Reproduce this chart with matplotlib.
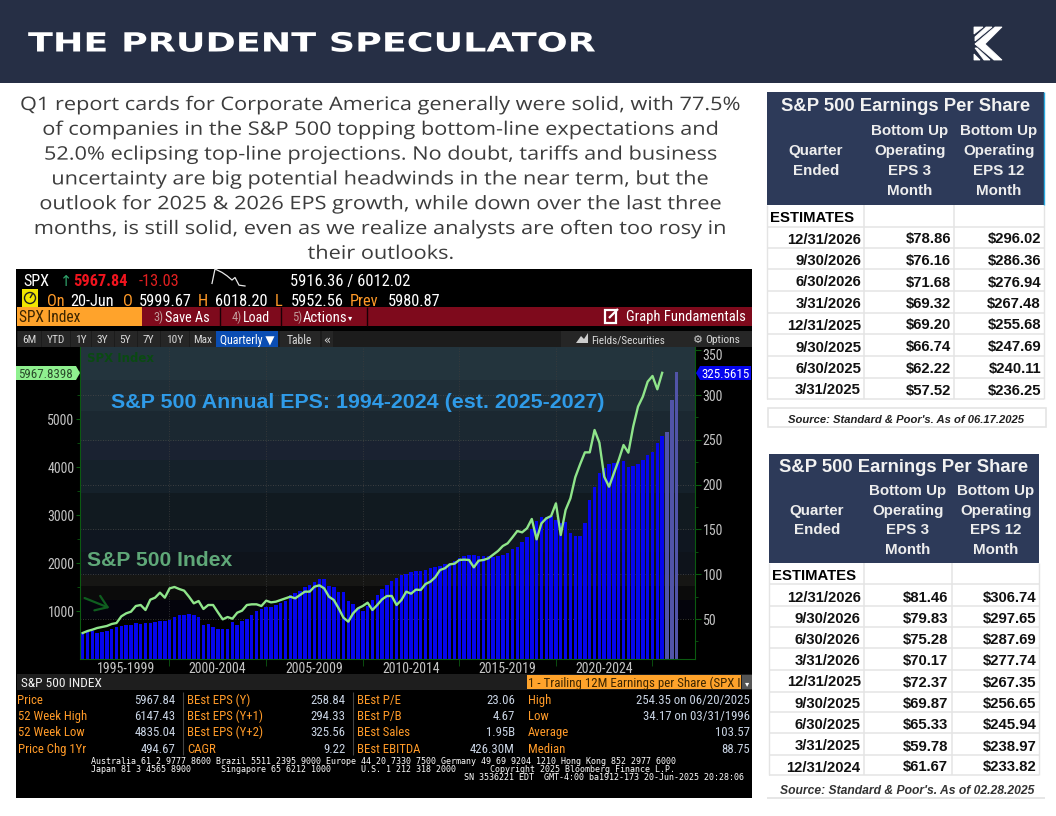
import matplotlib
matplotlib.use("Agg")
import matplotlib.pyplot as plt
import numpy as np
from matplotlib import font_manager as fm
from matplotlib.patches import Rectangle, Polygon, FancyArrowPatch, Circle
from matplotlib.patheffects import AbstractPathEffect
from matplotlib.transforms import Affine2D
from matplotlib.ticker import FixedLocator, NullFormatter

# ---------- data ----------
eps_actual = [34.0,35.1,36.6,34.17,35.5,37.0,38.8,41.1,42.2,43.3,43.7,45.5,44.0,45.9,45.5,46.7,47.8,47.8,48.5,52.6,
              54.5,54.5,55.6,54.5,52.2,43.3,44.4,41.1,39.2,38.8,39.2,47.0,43.3,47.8,49.6,54.8,58.6,61.2,63.0,63.0,
              66.0,68.2,70.5,76.4,78.6,81.6,86.1,88.3,91.3,94.3,94.3,86.8,85.3,80.1,80.1,70.5,66.7,62.3,58.6,64.5,
              71.2,77.2,83.1,88.3,92.0,95.8,99.1,99.9,102.5,103.2,103.9,104.3,106.9,108.0,109.5,111.0,111.8,115.1,118.4,120.7,
              121.0,121.4,120.7,120.3,120.0,119.5,120.8,122.0,124.0,127.7,130.0,135.9,141.9,150.0,159.7,163.5,164.2,165.0,160.5,156.8,
              158.6,145.6,142.6,142.6,156.8,182.8,197.7,212.6,218.2,222.6,224.4,225.5,226.3,219.3,220.8,223.0,227.4,233.0,236.7,246.2,
              254.35]
eps_estimates = [258.84, 294.33, 325.56]
spx_values = [548,589,617,652,673,694,735,756,895,957,992,1110,1131,1027,1242,1284,1388,1284,1478,1506,
              1464,1430,1305,1166,1214,1048,1131,1131,978,832,881,846,971,1013,1131,1145,1145,1110,1221,1186,
              1200,1235,1270,1304,1270,1339,1409,1409,1513,1541,1478,1304,1235,1061,867,784,957,1061,1110,1179,
              1027,1131,1249,1318,1319,1131,1235,1409,1367,1451,1444,1569,1617,1708,1860,1895,1978,1992,2069,2076,
              2069,1916,2055,2069,2103,2180,2256,2360,2416,2541,2673,2645,2728,2923,2499,2832,2936,2985,3249,2589,
              3110,3353,3791,4061,4311,4311,4777,4513,3804,3596,3874,4152,4464,4305,4847,5264,5472,5784,5902,5625,
              5967.84]
period_labels = ["1995-1999","2000-2004","2005-2009","2010-2014","2015-2019","2020-2024"]
period_centres = [9.0,27.8,47.9,68.0,87.9,108.0]
period_bounds = [17.9,38.0,58.0,77.9,98.0,117.9]
left_ticks = [1000,2000,3000,4000,5000]
right_ticks = [50,100,150,200,250,300,350]
spark_x = [0,3,10,15,20,23,27,33]
spark_y = [0.15,1.0,0.8,0.6,0.35,0.5,0.05,0.0]

paragraph = ["Q1 report cards for Corporate America generally were solid, with 77.5%",
             "of companies in the S&P 500 topping bottom-line expectations and",
             "52.0% eclipsing top-line projections. No doubt, tariffs and business",
             "uncertainty are big potential headwinds in the near term, but the",
             "outlook for 2025 & 2026 EPS growth, while down over the last three",
             "months, is still solid, even as we realize analysts are often too rosy in",
             "their outlooks."]

t1_quarters = ["12/31/2026","9/30/2026","6/30/2026","3/31/2026","12/31/2025","9/30/2025","6/30/2025","3/31/2025"]
t1_eps3 = ["$78.86","$76.16","$71.68","$69.32","$69.20","$66.74","$62.22","$57.52"]
t1_eps12 = ["$296.02","$286.36","$276.94","$267.48","$255.68","$247.69","$240.11","$236.25"]
t2_quarters = ["12/31/2026","9/30/2026","6/30/2026","3/31/2026","12/31/2025","9/30/2025","6/30/2025","3/31/2025","12/31/2024"]
t2_eps3 = ["$81.46","$79.83","$75.28","$70.17","$72.37","$69.87","$65.33","$59.78","$61.67"]
t2_eps12 = ["$306.74","$297.65","$287.69","$277.74","$267.35","$256.65","$245.94","$238.97","$233.82"]

stats_rows = [
 ("Price","5967.84","BEst EPS (Y)","258.84","BEst P/E","23.06","High","254.35 on 06/20/2025"),
 ("52 Week High","6147.43","BEst EPS (Y+1)","294.33","BEst P/B","4.67","Low","34.17 on 03/31/1996"),
 ("52 Week Low","4835.04","BEst EPS (Y+2)","325.56","BEst Sales","1.95B","Average","103.57"),
 ("Price Chg 1Yr","494.67","CAGR","9.22","BEst EBITDA","426.30M","Median","88.75"),
]

# ---------- fonts ----------
names = {f.name for f in fm.fontManager.ttflist}
NARROW = [n for n in ["Liberation Sans Narrow","Roboto Condensed","Open Sans Condensed","Liberation Sans"] if n in names][:1] + ["DejaVu Sans"]
ARIAL = ["Liberation Sans","DejaVu Sans"]
NW = 10.0

W, H = 1056, 816
fig = plt.figure(figsize=(W/100, H/100), dpi=100, facecolor="white")
base = fig.add_axes([0,0,1,1], zorder=0); top = fig.add_axes([0,0,1,1], zorder=5)
for a in (base, top):
    a.set_xlim(0,W); a.set_ylim(H,0); a.axis("off"); a.patch.set_alpha(0)

def R(x0,y0,x1,y1,c,ax=base,**k):
    ax.add_patch(Rectangle((x0,y0),x1-x0,y1-y0,facecolor=c,edgecolor="none",**k))
def L(x0,y0,x1,y1,c,lw=1,ax=base,**k):
    ax.plot([x0,x1],[y0,y1],color=c,lw=lw,solid_capstyle="butt",**k)
def T(x,y,s,size=NW,c="white",ha="left",fam=NARROW,w="normal",st="normal",va="center_baseline"):
    return top.text(x,y,s,fontsize=size,color=c,ha=ha,va=va,family=fam,weight=w,style=st)

# ---------- header ----------
R(0,0,W,83,"#262F45")
class StretchX(AbstractPathEffect):
    def __init__(self,sx,x0):
        super().__init__(); self.sx=sx; self.x0=x0
    def draw_path(self,renderer,gc,tpath,affine,rgbFace=None):
        t = affine + Affine2D().translate(-self.x0,0).scale(self.sx,1).translate(self.x0,0)
        renderer.draw_path(gc,tpath,t,rgbFace)
ttl = T(28,41.5,"THE PRUDENT SPECULATOR",size=19,fam=["DejaVu Sans"],w="bold")
fig.canvas.draw()
ext = ttl.get_window_extent()
ttl.set_path_effects([StretchX(567/ext.width,28)])
for pts in ([(974,27),(983,27),(974,34)],
            [(986,27),(992,27),(975,41),(975,37)],
            [(995,27),(1002,27),(985,44),(975,44)],
            [(975,44),(985,44),(1002,60),(994,60)],
            [(975,48),(977,48),(990,60),(984,60)],
            [(974,54),(980,60),(974,60)]):
    base.add_patch(Polygon(pts,closed=True,facecolor="white",edgecolor="white",lw=0.6))

# ---------- paragraph ----------
p0 = T(381,103,paragraph[0],size=13.4,c="#3c3c3c",ha="center",fam=["Open Sans","DejaVu Sans"])
fig.canvas.draw()
sx = 722/p0.get_window_extent().width
p0.set_path_effects([StretchX(sx,381)])
for k,line in enumerate(paragraph[1:],1):
    t = T(381,103+24.8*k,line,size=13.4,c="#3c3c3c",ha="center",fam=["Open Sans","DejaVu Sans"])
    t.set_path_effects([StretchX(sx,381)])

# ---------- terminal panel ----------
R(16,269,752,798,"black")
T(23,280,"SPX",size=11.6)
T(60,280,"↑",size=10.5,c="#2fa36b",fam=["DejaVu Sans"])
T(73,280,"5967.84",size=11.8,c="#f0141e",w="bold")
T(139,280,"-13.03",size=11.8,c="#e02020")
T(290,280,"5916.36 / 6012.02",size=11.9)
base.plot(212+np.array(spark_x),286-17*np.array(spark_y),color="#e8e8e8",lw=0.9)
R(22,289,38,308,"#f2e600")
base.add_patch(Circle((30,298),5.5,facecolor="none",edgecolor="#222",lw=1))
L(30,298,33,293,"#222",1)
O="#ff9a28"
for x,s,c in [(47,"On",O),(70,"20-Jun","white"),(123,"O",O),(139,"5999.67","white"),(198,"H",O),(215,"6018.20","white"),
              (275,"L",O),(291,"5952.56","white"),(350,"Prev",O),(388,"5980.87","white")]:
    T(x,300,s,size=11.8,c=c)
R(142,307,752,326,"#7E0A1C"); R(17,307,142,326,"#FFA32B")
T(19,316.5,"SPX Index",size=11.2,c="#3a2400")
for x in (220,281,367): L(x,307,x,326,"#1a0005",1)
T(153,316,"3)",size=9,c="#c09a9a"); T(165,316,"Save As",size=10.2)
T(232,316,"4)",size=9,c="#c09a9a"); T(243,316,"Load",size=10)
T(292,316,"5)",size=9,c="#c09a9a"); T(303,316,"Actions",size=10.6); T(350,317,"▾",size=6,fam=["DejaVu Sans"],ha="center")
base.add_patch(Rectangle((605,310),11,12.5,facecolor="none",edgecolor="white",lw=1.6))
L(609,318,618,309,"white",1.6)
T(626,316,"Graph Fundamentals",size=10.5)
R(17,331,752,347,"#1c1c1c")
for x0,x1,s in [(17,41,"6M"),(41,70,"YTD"),(70,91,"1Y"),(91,114,"3Y"),(114,137,"5Y"),(137,160,"7Y"),(160,189,"10Y"),(189,216,"Max")]:
    R(x0+0.5,331,x1-0.5,347,"#262626"); T((x0+x1)/2,339,s,size=8.2,c="#d8d8d8",ha="center")
R(216,331,278,347,"#0A4DB3"); T(247,339,"Quarterly ▼",size=8.6,ha="center")
R(280,331,320,347,"#262626"); T(299,339,"Table",size=8.4,c="#d8d8d8",ha="center")
R(322,331,333,347,"#262626"); T(327,339,"«",size=8.4,c="#d8d8d8",ha="center",fam=["DejaVu Sans"])
R(561,331,752,347,"#262626")
base.add_patch(Polygon([(576,343),(581,336),(584,339),(588,333),(588,343)],closed=True,facecolor="#cccccc",edgecolor="none"))
T(591,339,"Fields/Securities",size=8,c="#d8d8d8")
T(693,339,"⚙",size=8,c="#cccccc",fam=["DejaVu Sans"])
T(705,339,"Options",size=8.2,c="#d8d8d8")

# plot background bands
bands=[(347,380,"#23343D"),(380,411,"#1F2E37"),(411,441,"#1B2831"),(441,460,"#1A2231"),(460,493,"#15212A"),
       (493,530,"#111A20"),(530,552,"#0F1620"),(552,575,"#0E131B"),(575,586,"#161614"),(586,600,"#0B0B0B"),
       (600,619,"#04040C"),(619,659,"#000000")]
for y0,y1,c in bands: R(80,y0,695,y1,c)

# ---------- chart axes ----------
px0,px1,py0,py1 = 80,695,347,659
ax = fig.add_axes([px0/W,1-py1/H,(px1-px0)/W,(py1-py0)/H],zorder=2)
ax2 = ax.twinx()
ax.set_zorder(ax2.get_zorder()+1); ax.patch.set_visible(False); ax2.patch.set_visible(False)
n_act=len(eps_actual); xa=np.arange(n_act); xe=np.arange(n_act,n_act+len(eps_estimates))
ax2.bar(xa,eps_actual,width=0.72,color="#0505EE",zorder=3,bottom=0)
ax2.bar(xe,eps_estimates,width=0.72,color="#5154A8",zorder=3,bottom=0)
ax.plot(np.arange(len(spx_values)),spx_values,color="#8FE58A",lw=1.7,zorder=4,solid_joinstyle="round")
ax.set_xlim(-0.56,126.8); ax.set_ylim(6,6506); ax2.set_ylim(5.4,353.6)
GREEN="#0B5A10"; LAB="#C4C4C4"
for a in (ax,ax2):
    for s in a.spines.values(): s.set_visible(False)
ax.spines["left"].set_visible(True); ax.spines["left"].set_color(GREEN)
ax.spines["bottom"].set_visible(True); ax.spines["bottom"].set_color(GREEN)
ax2.spines["right"].set_visible(True); ax2.spines["right"].set_color(GREEN)
ax.set_yticks(left_ticks); ax.yaxis.set_minor_locator(FixedLocator([1500,2500,3500,4500,5500,6000]))
ax.tick_params(axis="y",which="major",length=3,color=GREEN,labelcolor=LAB,labelsize=NW,pad=1)
ax.tick_params(axis="y",which="minor",length=2.5,color=GREEN)
ax2.set_yticks(right_ticks); ax2.yaxis.set_minor_locator(FixedLocator(list(np.array(right_ticks)-25)))
ax2.tick_params(axis="y",which="major",length=4,color=GREEN,labelcolor=LAB,labelsize=NW,pad=1.5)
ax2.tick_params(axis="y",which="minor",length=2.5,color=GREEN)
ax.set_xticks(period_centres); ax.set_xticklabels(period_labels)
ax.xaxis.set_minor_locator(FixedLocator(period_bounds)); ax.xaxis.set_minor_formatter(NullFormatter())
ax.tick_params(axis="x",which="major",length=0,labelcolor=LAB,labelsize=NW,pad=2)
ax.tick_params(axis="x",which="minor",length=5,color=GREEN)
for t in ax.get_xticklabels()+ax.get_yticklabels()+ax2.get_yticklabels(): t.set_family(NARROW)
lab350 = ax2.get_yticklabels()[-1]
lab350.set_transform(lab350.get_transform()+Affine2D().translate(0,-4))
# dotted grid
for v in right_ticks[:-1]:
    ax2.axhline(v,color="#4a4a4a",lw=0.6,ls=(0,(1,2)),zorder=1)
for b in period_bounds:
    ax2.axvline(b,color="#3c3c3c",lw=0.6,ls=(0,(1,2)),zorder=1)

# annotations on chart
T(87,357,"SPX Index",size=8.5,c="#0A4A12",fam=["DejaVu Sans"],w="bold")
T(111,400,"S&P 500 Annual EPS: 1994-2024 (est. 2025-2027)",size=15.4,c="#2F9BE8",fam=ARIAL,w="bold")
T(87,559,"S&P 500 Index",size=15.2,c="#5FA878",fam=ARIAL,w="bold")
top.add_patch(FancyArrowPatch((82,597),(112,609),arrowstyle="->,head_length=5,head_width=3.5",color="#0F5E1F",lw=1.6,mutation_scale=1.6))
top.add_patch(Polygon([(16,366),(76,366),(80,373),(76,380),(16,380)],closed=True,facecolor="#8FF08F",edgecolor="none"))
T(18,373,"5967.8398",size=9.4,c="#2b4a2b")
top.add_patch(Polygon([(696,373),(700,366),(751,366),(751,380),(700,380)],closed=True,facecolor="#0505EE",edgecolor="none"))
T(701,373,"325.5615",size=9.4,c="white")

# ---------- stats ----------
R(17,674,752,690,"#1E1E1E")
T(21,682,"S&P 500 INDEX",size=9.6,c="#f0f0f0")
R(527,675,741,689,"#FFA32B"); T(528,682,"1 - Trailing 12M Earnings per Share (SPX I",size=9.3,c="#3a2400")
R(742,675,752,689,"#555555"); T(747,683,"▾",size=6,ha="center",fam=["DejaVu Sans"])
VAL="#C9D4E4"
colx=[(17.5,175.7),(187,345.7),(356.7,515),(527.7,750)]
for k,row in enumerate(stats_rows):
    y=[699,715,731,747.7][k]
    for j,(xl,xr) in enumerate(colx):
        T(xl,y,row[2*j],size=9.2,c=O)
        T(xr,y,row[2*j+1],size=9.2,c=VAL,ha="right")
for x in (182.5,352.5): L(x,692,x,755,"#444444",0.8)
MONO=["DejaVu Sans Mono"]
T(91,760,"Australia 61 2 9777 8600 Brazil 5511 2395 9000 Europe 44 20 7330 7500 Germany 49 69 9204 1210 Hong Kong 852 2977 6000",size=6,fam=MONO)
T(91,768,"Japan 81 3 4565 8900",size=6,fam=MONO)
T(221,768,"Singapore 65 6212 1000",size=6,fam=MONO)
T(361,768,"U.S. 1 212 318 2000",size=6,fam=MONO)
T(675,768,"Copyright 2025 Bloomberg Finance L.P.",size=6,fam=MONO,ha="right")
T(744,776,"SN 3536221 EDT  GMT-4:00 ba1912-173 20-Jun-2025 20:28:06",size=6,fam=MONO,ha="right")

# ---------- tables ----------
NAVY="#2D3A59"; GRID="#E4E4E4"
def table(x0,x1,y0,yh,seps,title,tx,ty,hys,hcx,q,e3,e12,rlines,rys,est_y,est_x,qr,e3r,e12r):
    R(x0,y0,x1,yh,NAVY)
    T(tx,ty,title,size=13.3,fam=ARIAL,w="bold",ha="center",c="#F2F2F2")
    for j,lines in enumerate(([None,"Quarter","Ended",None],["Bottom Up","Operating","EPS 3","Month"],["Bottom Up","Operating","EPS 12","Month"])):
        for hy,s in zip(hys,lines):
            if s: T(hcx[j],hy,s,size=10.9,fam=ARIAL,w="bold",ha="center",c="#EDEDED")
    for y in rlines: L(x0,y,x1,y,GRID,1.1)
    for x in seps: L(x,yh,x,rlines[-1],GRID,1.1)
    L(x0,yh,x0,rlines[-1],GRID,1); L(x1,yh,x1,rlines[-1],GRID,1)
    T(est_x,est_y,"ESTIMATES",size=10.7,c="black",fam=ARIAL,w="bold")
    for y,a,b,c in zip(rys,q,e3,e12):
        T(qr,y,a,size=10.7,c="#111111",fam=ARIAL,w="bold",ha="right")
        T(e3r,y,b,size=10.7,c="#111111",fam=ARIAL,w="bold",ha="right")
        T(e12r,y,c,size=10.7,c="#111111",fam=ARIAL,w="bold",ha="right")

table(767,1044,92,205,(864,954),"S&P 500 Earnings Per Share",906,104.5,(130,150,169.5,189.5),(815.7,910,999),
      t1_quarters,t1_eps3,t1_eps12,
      (226.7,247.7,269.3,291,312.7,334.3,356,377.7,399),
      (238,259.5,281,302.5,324,346,367.5,389),216.7,770,861,951,1041)
L(1044,92,1044,205,"#29ABE2",1)
base.add_patch(Rectangle((768,408),277.5,19,facecolor="white",edgecolor=GRID,lw=1.2))
T(906.5,419,"Source: Standard & Poor's. As of 06.17.2025",size=8.1,c="#222222",fam=ARIAL,w="bold",st="italic",ha="center")

table(769,1039,454,563.3,(864,952),"S&P 500 Earnings Per Share",904,465.7,(490,510,529,548),(816.7,908,996),
      t2_quarters,t2_eps3,t2_eps12,
      (584.3,605.7,627.3,648.3,670,691.7,712.3,733.3,755,775),
      (596.7,617.3,638.3,659.3,681,702.3,723.3,745,766),575,772,860.7,948,1036.7)
T(907,789.5,"Source: Standard & Poor's. As of 02.28.2025",size=8.7,c="#333333",fam=ARIAL,w="bold",st="italic",ha="center")
L(767,798,1045,798,GRID,1.3)

fig.savefig("out.png",dpi=100,facecolor="white")
